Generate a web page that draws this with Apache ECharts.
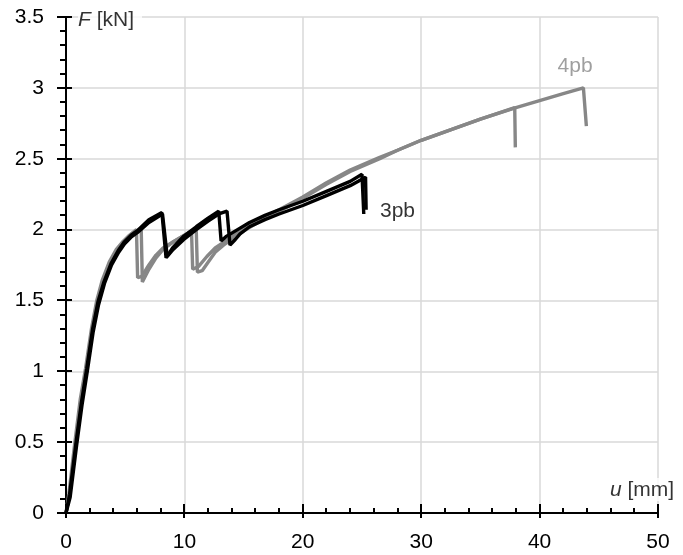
<!DOCTYPE html>
<html>
<head>
<meta charset="utf-8">
<script src="https://cdn.jsdelivr.net/npm/echarts@6/dist/echarts.min.js"></script>
<style>
html,body{margin:0;padding:0;background:#fff;}
#c{width:683px;height:555px;}
</style>
</head>
<body>
<div id="c"></div>
<script>
// ---- data (u [mm], F [kN]) ----
const pb3_A = [[0,0],[0.3,0.13],[0.85,0.5],[1.3,0.78],[1.75,1.02],[2.25,1.3],[2.7,1.49],[3.2,1.63],[3.8,1.76],[4.4,1.85],[4.9,1.91],[5.5,1.96],[6.0,1.99],[7.0,2.07],[8.1,2.12],[8.45,1.80],[9.0,1.87],[9.9,1.95],[11,2.02],[12,2.08],[12.9,2.13],[13.1,1.92],[13.5,1.95],[14.7,2.01],[15.5,2.05],[16.8,2.1],[18,2.14],[20,2.2],[22,2.27],[24,2.34],[25.0,2.39],[25.15,2.11]];
const pb3_B = [[0,0],[0.35,0.11],[0.9,0.48],[1.35,0.76],[1.8,1.0],[2.3,1.28],[2.75,1.47],[3.25,1.62],[3.85,1.75],[4.45,1.84],[4.95,1.9],[5.55,1.95],[6.05,1.98],[7.0,2.05],[8.15,2.11],[8.55,1.81],[9.05,1.86],[9.95,1.93],[11,2.0],[12,2.06],[12.9,2.11],[13.6,2.13],[13.85,1.89],[14.3,1.93],[14.7,1.97],[15.5,2.02],[16.8,2.07],[18,2.11],[20,2.17],[22,2.24],[24,2.31],[25.3,2.37],[25.35,2.14]];
const pb4_A = [[0,0],[0.25,0.14],[0.75,0.5],[1.2,0.8],[1.65,1.02],[2.15,1.3],[2.6,1.5],[3.05,1.64],[3.65,1.77],[4.25,1.86],[4.75,1.91],[5.35,1.96],[5.95,2.0],[6.05,1.66],[6.4,1.67],[7.0,1.75],[7.6,1.82],[8.2,1.87],[9.0,1.91],[10,1.96],[10.6,1.99],[10.7,1.72],[11.2,1.74],[11.9,1.81],[12.6,1.87],[13.3,1.91],[14.3,1.97],[15.2,2.02],[16.8,2.09],[18,2.14],[20,2.23],[22,2.33],[24,2.42],[26.5,2.51],[28,2.56],[30,2.63],[32,2.69],[35,2.78],[37.9,2.86],[37.95,2.58]];
const pb4_B = [[0,0],[0.3,0.13],[0.8,0.48],[1.25,0.78],[1.7,1.0],[2.2,1.28],[2.65,1.48],[3.1,1.63],[3.7,1.76],[4.3,1.85],[4.8,1.9],[5.4,1.95],[6.0,1.99],[6.35,2.01],[6.45,1.63],[7.0,1.72],[7.6,1.8],[8.2,1.86],[9.0,1.91],[10,1.96],[11.0,2.0],[11.1,1.70],[11.5,1.71],[12.0,1.77],[12.6,1.84],[13.3,1.89],[14.3,1.95],[15.2,2.0],[16.8,2.08],[18,2.13],[20,2.22],[22,2.32],[24,2.41],[26.5,2.5],[28,2.56],[30,2.63],[32,2.69],[35,2.78],[38,2.86],[40,2.91],[42,2.96],[43.7,3.0],[43.95,2.73]];
const seriesNames = ['4pb','3pb'];
const labelAt = {'4pb':[43.0,3.15], '3pb':[28.0,2.13]};
const xRange = [0,50,10];
const yRange = [0,3.5,0.5];
const xMajorTicks = [0,10,20,30,40,50];
const xMinorTicks = [2,4,6,8,12,14,16,18,22,24,26,28,32,34,36,38,42,44,46,48];
const yMajorTicks = [0,0.5,1,1.5,2,2.5,3,3.5];
const yMinorTicks = [0.1,0.2,0.3,0.4,0.6,0.7,0.8,0.9,1.1,1.2,1.3,1.4,1.6,1.7,1.8,1.9,2.1,2.2,2.3,2.4,2.6,2.7,2.8,2.9,3.1,3.2,3.3,3.4];
const xTitle = '{i|u} [mm]';
const yTitle = '{i|F} [kN]';

const GRAY = '#878787';
const FONT = 'Liberation Sans, Arial, sans-serif';
const FS = 21;
const chart = echarts.init(document.getElementById('c'));

function lineSeries(data, color, z){
  return {type:'line', data:data, showSymbol:false, symbol:'none', color:color,
    lineStyle:{color:color, width:3.4}, z:z, animation:false, silent:true};
}
function labelSeries(name, color){
  return {type:'scatter', data:[labelAt[name]], symbolSize:0, z:10, animation:false, silent:true,
    label:{show:true, position:'inside', formatter:name, color:color, fontSize:FS, fontFamily:FONT}};
}
const rich = {i:{fontStyle:'italic', fontSize:FS, fontFamily:FONT, color:'#000'}};
function titleSeries(pt, text, pos, align, vAlign, pad){
  return {type:'scatter', data:[pt], symbolSize:0, z:10, clip:false, animation:false, silent:true,
    label:{show:true, position:pos, align:align, verticalAlign:vAlign, formatter:text,
      color:'#000', fontSize:FS, fontFamily:FONT, backgroundColor:'#fff', padding:pad, rich:rich}};
}
// tick marks drawn through the axes' scales
function tickSeries(vals, dir, outLen, inLen, width){
  const data = vals.map(v => dir === 'x' ? [v, yRange[0]] : [xRange[0], v]);
  return {type:'custom', data:data, clip:false, z:20, silent:true, animation:false,
    renderItem: function(params, api){
      const p = api.coord([api.value(0), api.value(1)]);
      const x = Math.round(p[0]), y = Math.round(p[1]);
      const shape = dir === 'x'
        ? {x:x - width/2, y:y - inLen, width:width, height:inLen + outLen}
        : {x:x - outLen, y:y - width/2, width:outLen + inLen, height:width};
      return {type:'rect', shape:shape, style:{fill:'#000'}};
    }};
}

chart.setOption({
  backgroundColor:'#fff',
  animation:false,
  grid:{left:66, right:25, top:17, bottom:42},
  xAxis:{type:'value', min:xRange[0], max:xRange[1], interval:xRange[2],
    axisLine:{show:true, lineStyle:{color:'#000', width:2}},
    axisTick:{show:false},
    splitLine:{show:true, lineStyle:{color:'#d9d9d9', width:1.5}},
    axisLabel:{color:'#000', fontSize:FS, fontFamily:FONT, margin:19}},
  yAxis:{type:'value', min:yRange[0], max:yRange[1], interval:yRange[2],
    axisLine:{show:true, lineStyle:{color:'#000', width:2}},
    axisTick:{show:false},
    splitLine:{show:true, lineStyle:{color:'#d9d9d9', width:1.5}},
    axisLabel:{color:'#000', fontSize:FS, fontFamily:FONT, margin:22}},
  series:[
    lineSeries(pb4_A, GRAY, 2),
    lineSeries(pb4_B, GRAY, 2),
    lineSeries(pb3_A, '#000', 3),
    lineSeries(pb3_B, '#000', 3),
    labelSeries(seriesNames[0], GRAY),
    labelSeries(seriesNames[1], '#000'),
    titleSeries([xRange[0], yRange[1]], yTitle, [12, 3], 'left', 'middle', [0,8,0,0]),
    titleSeries([xRange[1], yRange[0]], xTitle, [-48, -12], 'left', 'bottom', [2,0,0,0]),
    tickSeries(xMajorTicks, 'x', 5, 9, 2),
    tickSeries(xMinorTicks, 'x', 0, 5, 2),
    tickSeries(yMajorTicks, 'y', 9, 6, 2),
    tickSeries(yMinorTicks, 'y', 6, 0, 2)
  ]
});
</script>
</body>
</html>
